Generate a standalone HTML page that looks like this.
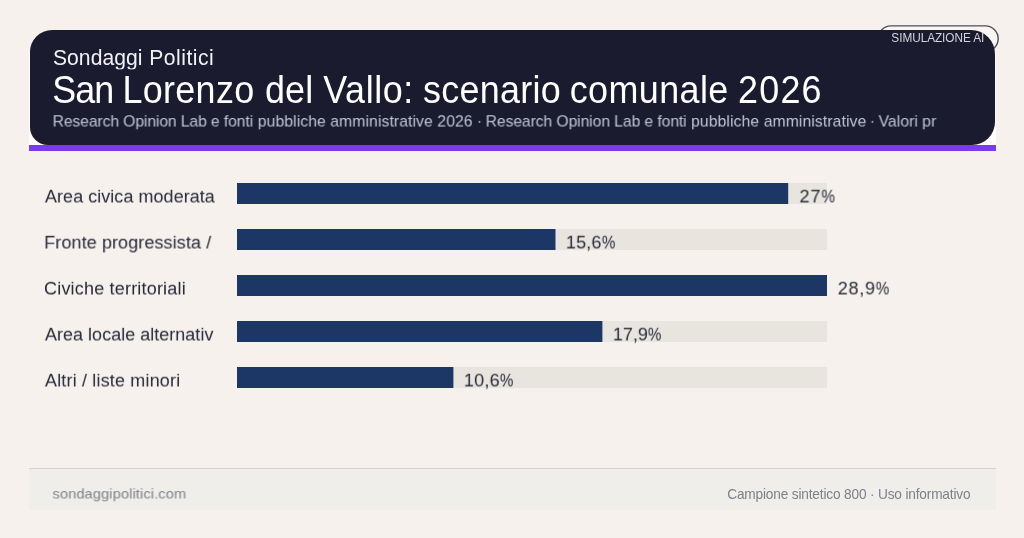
<!DOCTYPE html>
<html lang="it">
<head>
<meta charset="utf-8">
<title>Sondaggi Politici</title>
<style>
*{margin:0;padding:0;box-sizing:border-box}
html,body{width:1024px;height:538px;overflow:hidden}
body{background:#f6f1ec;font-family:"Liberation Sans",sans-serif;position:relative;color:#2d3142}
.abs{position:absolute;white-space:nowrap;line-height:1;will-change:transform;transform-origin:0 0}
#hdrwhite{position:absolute;left:29px;top:52px;width:967px;height:99px;background:#fefdfb}
#hdr{position:absolute;left:30px;top:30px;width:965px;height:115px;background:#1a1b2e;border-radius:22px 24px 23px 18px}
#bar{position:absolute;left:29px;top:145px;width:967px;height:6px;background:#7c3aed}
span.p{display:inline-block;transform:scaleX(0.84);transform-origin:0 50%;letter-spacing:0}
#foot{position:absolute;left:29px;top:468px;width:967px;height:42px;background:#efeeea;border-top:1px solid #d8d3c9}
</style>
</head>
<body>
<div id="hdrwhite"></div>
<svg id="badgesvg" width="1024" height="80" viewBox="0 0 1024 80" style="position:absolute;left:0;top:0"><rect x="878.1" y="25.9" width="120.1" height="25.6" rx="12.8" ry="12.8" fill="#f9f6f2" stroke="#4e4f60" stroke-width="1.4"/></svg>
<div id="hdr"></div>
<div id="bar"></div>
<div class="abs" id="badgetxt" style="left:891px;top:31px;font-size:11.8px;letter-spacing:-0.0563px;color:#d4d4de;transform:translate(0.371px,1.0px) scaleY(1.1)">SIMULAZIONE AI</div>
<div class="abs" id="t1a" style="left:53px;top:46px;font-size:21.1px;letter-spacing:0.0424px;color:#f2f2f6;transform:translate(-0.024px,-0.543px) scaleY(1.0857)">Sondaggi</div>
<div class="abs" id="t1b" style="left:149px;top:46px;font-size:21.1px;letter-spacing:0.4943px;color:#f2f2f6;transform:translate(0.237px,-0.543px) scaleY(1.0857)">Politici</div>
<div class="abs" id="t2a" style="left:53px;top:72px;font-size:35.9px;letter-spacing:-0.9918px;color:#ffffff;transform:translate(-0.712px,0.129px) scaleY(1.0542)">San</div>
<div class="abs" id="t2b" style="left:124px;top:72px;font-size:35.9px;letter-spacing:0.3182px;color:#ffffff;transform:translate(-1.5px,0.129px) scaleY(1.0542)">Lorenzo</div>
<div class="abs" id="t2c" style="left:265px;top:72px;font-size:35.9px;letter-spacing:0.1376px;color:#ffffff;transform:translate(-0.024px,0.129px) scaleY(1.0542)">del</div>
<div class="abs" id="t2d" style="left:322px;top:72px;font-size:35.9px;letter-spacing:0.5951px;color:#ffffff;transform:translate(1.207px,0.129px) scaleY(1.0542)">Vallo:</div>
<div class="abs" id="t2e" style="left:423px;top:72px;font-size:35.9px;letter-spacing:0.299px;color:#ffffff;transform:translate(-0.077px,0.129px) scaleY(1.0542)">scenario</div>
<div class="abs" id="t2f" style="left:570px;top:72px;font-size:35.9px;letter-spacing:0.4341px;color:#ffffff;transform:translate(-0.328px,0.129px) scaleY(1.0542)">comunale</div>
<div class="abs" id="t2g" style="left:739px;top:72px;font-size:35.9px;letter-spacing:1.2212px;color:#ffffff;transform:translate(-0.976px,0.129px) scaleY(1.0542)">2026</div>
<div class="abs" id="t3a" style="left:52px;top:113px;font-size:15.7px;letter-spacing:-0.1008px;color:#c2c6d7;transform:translate(0.595px,1.258px) scaleY(0.9417)">Research Opinion Lab e fonti</div>
<div class="abs" id="t3b" style="left:257px;top:113px;font-size:15.7px;letter-spacing:0.1024px;color:#c2c6d7;transform:translate(0.721px,1.258px) scaleY(0.9417)">pubbliche amministrative 2026</div>
<div class="abs" id="t3c" style="left:477px;top:113px;font-size:15.7px;letter-spacing:0px;color:#c2c6d7;transform:translate(-0.202px,1.258px) scaleY(0.9417)">·</div>
<div class="abs" id="t3d" style="left:485px;top:113px;font-size:15.7px;letter-spacing:-0.0782px;color:#c2c6d7;transform:translate(0.595px,1.258px) scaleY(0.9417)">Research Opinion Lab e fonti</div>
<div class="abs" id="t3e" style="left:691px;top:113px;font-size:15.7px;letter-spacing:0.1117px;color:#c2c6d7;transform:translate(0.106px,1.258px) scaleY(0.9417)">pubbliche amministrative</div>
<div class="abs" id="t3f" style="left:870px;top:113px;font-size:15.7px;letter-spacing:0px;color:#c2c6d7;transform:translate(-0.31px,1.258px) scaleY(0.9417)">·</div>
<div class="abs" id="t3g" style="left:877px;top:113px;font-size:15.7px;letter-spacing:0.0459px;color:#c2c6d7;transform:translate(1.623px,1.258px) scaleY(0.9417)">Valori pr</div>

<svg id="bars" width="1024" height="538" viewBox="0 0 1024 538" style="position:absolute;left:0;top:0">
<rect x="237" y="183" width="590" height="21" fill="#e8e4de"/><rect x="237" y="183" width="551.2" height="21" fill="#1c3766"/>
<rect x="237" y="229" width="590" height="21" fill="#e8e4de"/><rect x="237" y="229" width="318.5" height="21" fill="#1c3766"/>
<rect x="237" y="275" width="590" height="21" fill="#e8e4de"/><rect x="237" y="275" width="590.0" height="21" fill="#1c3766"/>
<rect x="237" y="321" width="590" height="21" fill="#e8e4de"/><rect x="237" y="321" width="365.4" height="21" fill="#1c3766"/>
<rect x="237" y="367" width="590" height="21" fill="#e8e4de"/><rect x="237" y="367" width="216.4" height="21" fill="#1c3766"/>
</svg>

<div class="abs" id="l1" style="left:44px;top:187px;font-size:18px;letter-spacing:0.0392px;color:#262a3a;transform:translate(0.897px,0.846px) scaleY(0.9769)">Area civica moderata</div>
<div class="abs" id="l2" style="left:44px;top:233px;font-size:18px;letter-spacing:0.093px;color:#262a3a;transform:translate(0.225px,0.846px) scaleY(0.9769)">Fronte progressista /</div>
<div class="abs" id="l3" style="left:44px;top:279px;font-size:18px;letter-spacing:0.1912px;color:#262a3a;transform:translate(-0.024px,0.846px) scaleY(0.9769)">Civiche territoriali</div>
<div class="abs" id="l4" style="left:44px;top:325px;font-size:18px;letter-spacing:0.0147px;color:#262a3a;transform:translate(0.898px,0.846px) scaleY(0.9769)">Area locale alternativ</div>
<div class="abs" id="l5" style="left:44px;top:371px;font-size:18px;letter-spacing:0.1677px;color:#262a3a;transform:translate(0.897px,0.846px) scaleY(0.9769)">Altri / liste minori</div>

<div class="abs" id="v1" style="left:799px;top:187px;font-size:18px;letter-spacing:1.0796px;color:#262a3a;transform:translate(0.493px,0.746px) scaleY(0.9769)">27<span class="p">%</span></div>
<div class="abs" id="v2" style="left:566px;top:233px;font-size:18px;letter-spacing:0.1508px;color:#262a3a;transform:translate(-0.178px,0.746px) scaleY(0.9769)">15,6<span class="p">%</span></div>
<div class="abs" id="v3" style="left:837px;top:279px;font-size:18px;letter-spacing:0.7762px;color:#262a3a;transform:translate(0.7px,0.746px) scaleY(0.9769)">28,9<span class="p">%</span></div>
<div class="abs" id="v4" style="left:613px;top:325px;font-size:18px;letter-spacing:0.0056px;color:#262a3a;transform:translate(-0.175px,0.746px) scaleY(0.9769)">17,9<span class="p">%</span></div>
<div class="abs" id="v5" style="left:464px;top:371px;font-size:18px;letter-spacing:0.2294px;color:#262a3a;transform:translate(-0.174px,0.746px) scaleY(0.9769)">10,6<span class="p">%</span></div>

<div id="foot"></div>
<div class="abs" id="f1" style="left:52px;top:486px;font-size:14.6px;letter-spacing:0.1161px;color:#7d8289;transform:translate(0.5px,1.318px) scaleY(0.9318)">sondaggipolitici.com</div>
<div class="abs" id="f2" style="left:726px;top:487px;font-size:13.7px;letter-spacing:-0.177px;color:#7d8289;transform:translate(1.176px,0.06px) scaleY(1.0907)">Campione sintetico 800 · Uso informativo</div>
</body>
</html>
